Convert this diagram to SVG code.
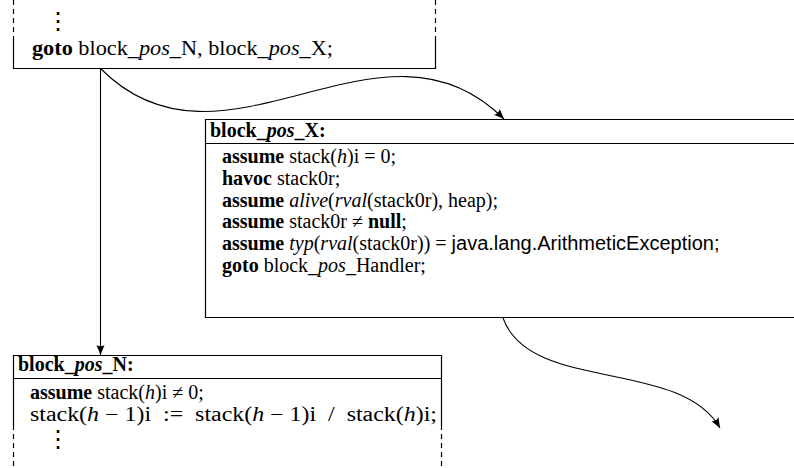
<svg xmlns="http://www.w3.org/2000/svg" width="794" height="468" viewBox="0 0 794 468">
<style>
.t{font-family:"Liberation Serif","Times New Roman",serif;font-size:20px;fill:#000}
.b{font-weight:bold}
.i{font-style:italic}
.s{font-family:"Liberation Sans",Arial,sans-serif}
.edge{fill:none;stroke:#000;stroke-width:1.2}
.dash{fill:none;stroke:#000;stroke-width:1.2;stroke-dasharray:5 4}
.box{fill:#fff;stroke:#000;stroke-width:1.2}
.conn{fill:none;stroke:#000;stroke-width:1.1}
.dots{font-family:"DejaVu Sans",sans-serif;font-size:24px}
</style>
<defs>
<marker id="ah" markerUnits="userSpaceOnUse" markerWidth="12" markerHeight="10" refX="10" refY="4" orient="auto">
<path d="M0,0 L10,4 L0,8 Q2.5,4 0,0 z" fill="#000"/>
</marker>
</defs>
<g id="block_top">
<path class="dash" d="M13.5,0 V40 M435.5,0 V40"/>
<path class="edge" d="M13.5,40 V68.5 H435.5 V40"/>
<text class="t dots" x="46" y="29">⋮</text>
<text class="t" x="32" y="55" textLength="301" lengthAdjust="spacingAndGlyphs"><tspan class="b">goto</tspan> block_<tspan class="i">pos</tspan>_N, block_<tspan class="i">pos</tspan>_X;</text>
</g>
<g id="block_pos_X">
<path class="box" d="M800,119.5 H205.5 V317.5 H800"/>
<line class="edge" x1="205.5" y1="143.5" x2="800" y2="143.5"/>
<text class="t b" x="210" y="137">block_<tspan class="i">pos</tspan>_X:</text>
<text class="t" x="222" y="163"><tspan class="b">assume</tspan> stack(<tspan class="i">h</tspan>)i = 0;</text>
<text class="t" x="222" y="185"><tspan class="b">havoc</tspan> stack0r;</text>
<text class="t" x="222" y="207"><tspan class="b">assume</tspan> <tspan class="i">alive</tspan>(<tspan class="i">rval</tspan>(stack0r), heap);</text>
<text class="t" x="222" y="228"><tspan class="b">assume</tspan> stack0r ≠ <tspan class="b">null</tspan>;</text>
<text class="t" x="222" y="250"><tspan class="b">assume</tspan> <tspan class="i">typ</tspan>(<tspan class="i">rval</tspan>(stack0r)) = <tspan class="s">java.lang.ArithmeticException;</tspan></text>
<text class="t" x="222" y="272"><tspan class="b">goto</tspan> block_<tspan class="i">pos</tspan>_Handler;</text>
</g>
<g id="block_pos_N">
<path class="box" d="M13.5,425 V355.5 H441.5 V425"/>
<path class="dash" d="M13.5,425 V468 M441.5,425 V468"/>
<line class="edge" x1="13.5" y1="378.5" x2="441.5" y2="378.5"/>
<text class="t b" x="18" y="371">block_<tspan class="i">pos</tspan>_N:</text>
<text class="t" x="30" y="399"><tspan class="b">assume</tspan> stack(<tspan class="i">h</tspan>)i ≠ 0;</text>
<text class="t" x="30" y="421" textLength="407" lengthAdjust="spacingAndGlyphs">stack(<tspan class="i">h</tspan> − 1)i<tspan dx="5"> :=</tspan><tspan dx="5"> stack(</tspan><tspan class="i">h</tspan> − 1)i<tspan dx="5"> /</tspan><tspan dx="5"> stack(</tspan><tspan class="i">h</tspan>)i;</text>
<text class="t dots" x="46" y="447">⋮</text>
</g>
<g id="connectors">
<path class="conn" d="M100.5,69 V355" marker-end="url(#ah)"/>
<path class="conn" d="M101,69 C224,192 381,-4 504,119" marker-end="url(#ah)"/>
<path class="conn" d="M503,318 C530,393 680,358 720,428" marker-end="url(#ah)"/>
</g>
</svg>
